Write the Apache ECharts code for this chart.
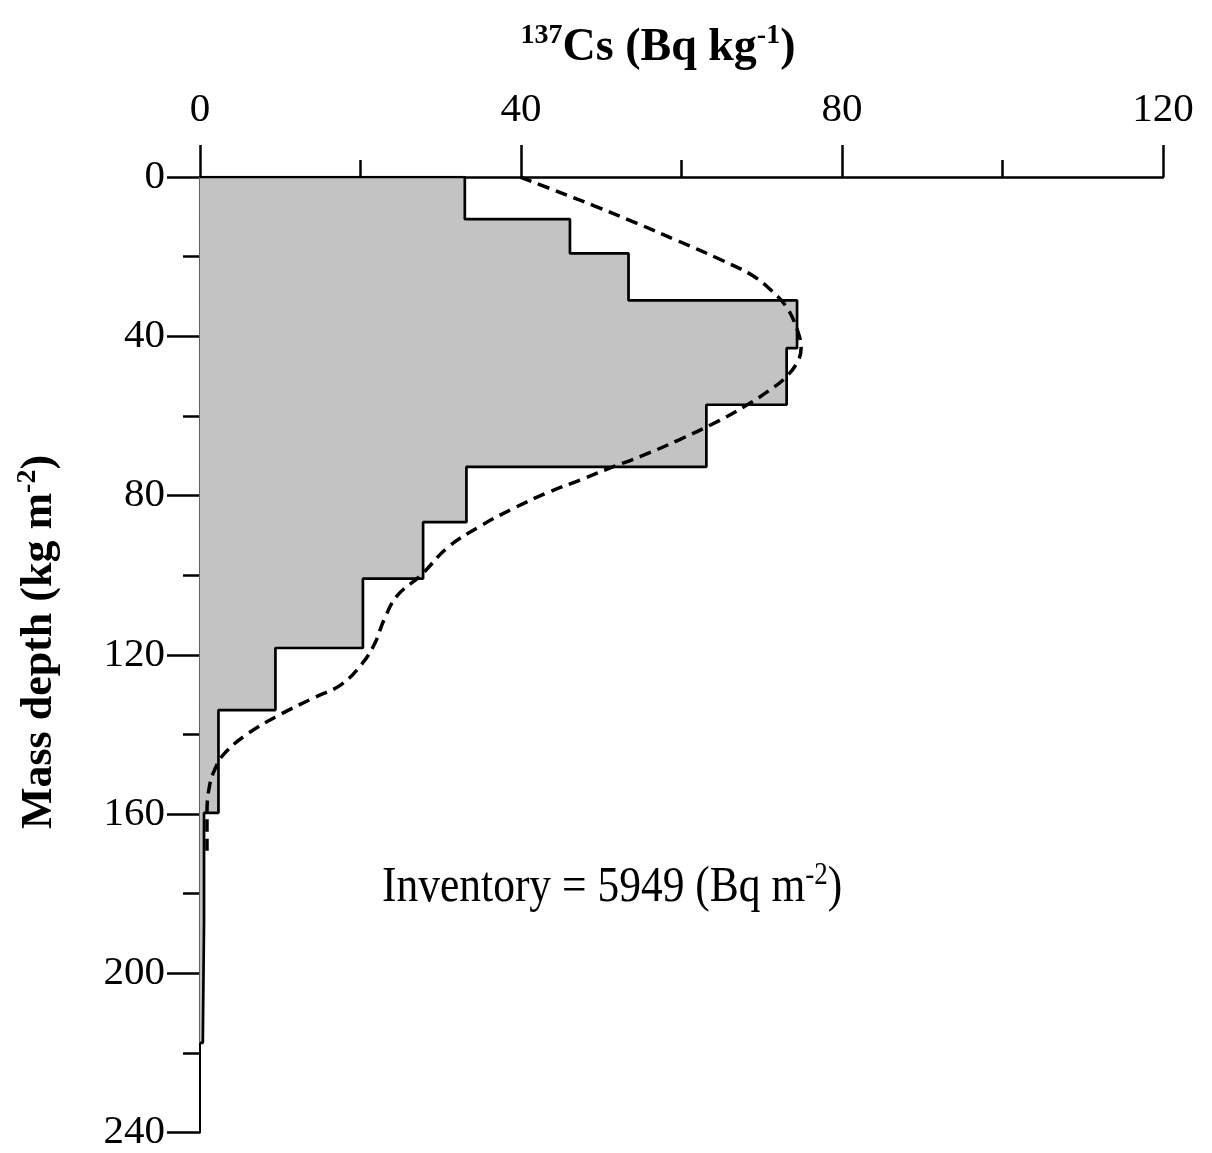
<!DOCTYPE html>
<html>
<head>
<meta charset="utf-8">
<script src="https://cdn.jsdelivr.net/npm/echarts@6/dist/echarts.min.js"></script>
<style>
  html, body { margin: 0; padding: 0; background: #fff; }
  #chart { width: 1212px; height: 1153px; }
</style>
</head>
<body>
<div id="chart"></div>
<script>
  'use strict'

  // layer boundaries (kg m-2), one more than values
  var depthEdges = [0, 10.6, 19.2, 31.0, 43.0, 57.2, 72.8, 86.7, 100.9, 118.3, 133.9, 159.7, 187.4, 217.5];
  // measured 137Cs per layer (Bq kg-1)
  var csValues = [33.0, 46.1, 53.4, 74.4, 73.1, 63.1, 33.2, 27.8, 20.3, 9.4, 2.3, 0.5, 0.35];

  // fitted profile (dashed)
  var modelCs = [39.9, 44.0, 49.2, 54.3, 59.5, 64.7, 68.8, 71.4, 73.2, 74.5, 74.9, 74.5, 72.9, 70.8, 68.3, 64.7,
    59.5, 54.9, 51.6, 47.5, 43.3, 39.2, 35.0, 30.9, 27.5, 24.6, 23.0, 21.7, 20.1, 17.6, 14.2, 10.1,
    5.9, 3.0, 1.8, 1.16, 0.87, 0.87];
  var modelDepth = [0, 3.2, 7.3, 11.5, 16.0, 20.6, 24.7, 28.9, 33.0, 38.8, 43.0, 46.3, 50.5, 53.8, 57.1, 61.2,
    66.2, 70.2, 72.7, 76.0, 79.3, 83.1, 87.6, 93.0, 100.1, 105.1, 110.9, 117.5, 122.5, 127.5, 130.8, 134.9,
    139.9, 144.9, 149.0, 153.2, 159.8, 170.5];

  var xTicks = [0, 40, 80, 120];
  var yTicks = [0, 40, 80, 120, 160, 200, 240];
  var inventory = 5949;

  var serif = 'Liberation Serif';

  var layers = [];
  for (var i = 0; i < csValues.length; i++) {
    layers.push([depthEdges[i], depthEdges[i + 1], csValues[i]]);
  }

  var outline = [[0, 0], [csValues[0], 0]];
  for (var j = 0; j < csValues.length; j++) {
    outline.push([csValues[j], depthEdges[j + 1]]);
    if (j + 1 < csValues.length) outline.push([csValues[j + 1], depthEdges[j + 1]]);
  }
  outline.push([0, depthEdges[depthEdges.length - 1]]);

  var model = modelCs.map(function (v, k) { return [v, modelDepth[k]]; });

  function renderLayer(params, api) {
    var p0 = api.coord([0, api.value(0)]);
    var p1 = api.coord([api.value(2), api.value(1)]);
    return {
      type: 'rect',
      shape: { x: p0[0], y: p0[1], width: p1[0] - p0[0], height: p1[1] - p0[1] },
      style: { fill: '#c3c3c3', stroke: '#c3c3c3', lineWidth: 1 }
    };
  }

  var option = {
    animation: false,
    backgroundColor: '#fff',
    grid: { left: 200, right: 49, top: 177, bottom: 11 },
    xAxis: {
      type: 'value',
      position: 'top',
      min: xTicks[0],
      max: xTicks[xTicks.length - 1],
      interval: xTicks[1] - xTicks[0],
      splitLine: { show: false },
      axisLine: { lineStyle: { color: '#000', width: 2.5 } },
      axisTick: { show: true, length: 32, lineStyle: { color: '#000', width: 2.5 } },
      minorTick: { show: true, splitNumber: 2, length: 17, lineStyle: { color: '#000', width: 2.5 } },
      axisLabel: { color: '#000', fontFamily: serif, fontSize: 41, margin: 46 }
    },
    yAxis: {
      type: 'value',
      inverse: true,
      min: yTicks[0],
      max: yTicks[yTicks.length - 1],
      interval: yTicks[1] - yTicks[0],
      splitLine: { show: false },
      axisLine: { lineStyle: { color: '#000', width: 2 } },
      axisTick: { show: true, length: 33, lineStyle: { color: '#000', width: 2.5 } },
      minorTick: { show: true, splitNumber: 2, length: 17, lineStyle: { color: '#000', width: 2.5 } },
      axisLabel: { color: '#000', fontFamily: serif, fontSize: 41, margin: 35, padding: [0, 0, 18, 0] }
    },
    graphic: [
      {
        type: 'text', x: 658, y: 48,
        style: {
          text: '{s|137}{b|Cs (Bq kg}{s|-1}{b|)}',
          align: 'center', verticalAlign: 'middle',
          rich: {
            b: { fontFamily: serif, fontWeight: 'bold', fontSize: 46, lineHeight: 52, fill: '#000' },
            s: { fontFamily: serif, fontWeight: 'bold', fontSize: 28, verticalAlign: 'top', fill: '#000' }
          }
        }
      },
      {
        type: 'text', x: 40, y: 642, rotation: Math.PI / 2,
        style: {
          text: '{b|Mass depth (kg m}{s|-2}{b|)}',
          align: 'center', verticalAlign: 'middle',
          rich: {
            b: { fontFamily: serif, fontWeight: 'bold', fontSize: 44, lineHeight: 52, fill: '#000' },
            s: { fontFamily: serif, fontWeight: 'bold', fontSize: 28, verticalAlign: 'top', fill: '#000' }
          }
        }
      },
      {
        type: 'text', x: 382, y: 888, scaleX: 0.87,
        style: {
          text: '{b|Inventory = ' + inventory + ' (Bq m}{s|-2}{b|)}',
          align: 'left', verticalAlign: 'middle',
          rich: {
            b: { fontFamily: serif, fontSize: 50, lineHeight: 56, fill: '#000' },
            s: { fontFamily: serif, fontSize: 31, verticalAlign: 'top', fill: '#000' }
          }
        }
      }
    ],
    series: [
      {
        type: 'custom',
        renderItem: renderLayer,
        encode: { x: 2, y: [0, 1] },
        data: layers,
        z: 1
      },
      {
        type: 'line',
        data: outline,
        symbol: 'none',
        lineStyle: { color: '#000', width: 2.7 },
        z: 2
      },
      {
        type: 'line',
        data: model,
        smooth: 0.4,
        symbol: 'none',
        lineStyle: { color: '#000', width: 3.5, type: [12, 7] },
        z: 3
      }
    ]
  };

  var chart = echarts.init(document.getElementById('chart'));
  chart.setOption(option);
</script>
</body>
</html>
